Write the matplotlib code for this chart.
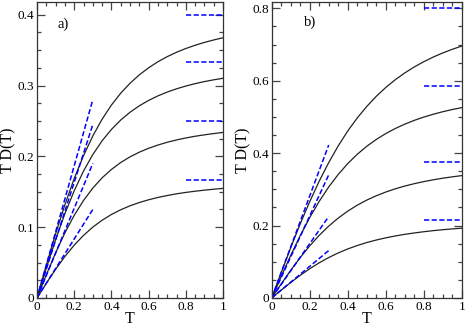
import matplotlib
matplotlib.use("Agg")
import matplotlib.pyplot as plt
from matplotlib.ticker import MultipleLocator, FuncFormatter

# temperature grid of the read-off points
T = [0, 0.05, 0.1, 0.15, 0.2, 0.25, 0.3, 0.35, 0.4, 0.45, 0.5,
     0.55, 0.6, 0.65, 0.7, 0.75, 0.8, 0.85, 0.9, 0.95, 1.0]

# panel a) curves, top to bottom
a1 = [0, 0.0462, 0.0906, 0.1317, 0.1687, 0.2010, 0.2288, 0.2525, 0.2724, 0.2892, 0.3032,
      0.3151, 0.3251, 0.3336, 0.3408, 0.3470, 0.3523, 0.3569, 0.3609, 0.3644, 0.3675]
a2 = [0, 0.0422, 0.0824, 0.1191, 0.1514, 0.1792, 0.2025, 0.2220, 0.2380, 0.2513, 0.2623,
      0.2714, 0.2790, 0.2854, 0.2908, 0.2954, 0.2993, 0.3027, 0.3056, 0.3081, 0.3103]
a3 = [0, 0.0327, 0.0638, 0.0920, 0.1167, 0.1377, 0.1552, 0.1697, 0.1815, 0.1913, 0.1993,
      0.2059, 0.2114, 0.2160, 0.2199, 0.2232, 0.2260, 0.2284, 0.2304, 0.2322, 0.2338]
a4 = [0, 0.0207, 0.0405, 0.0586, 0.0746, 0.0884, 0.1001, 0.1098, 0.1179, 0.1246, 0.1302,
      0.1348, 0.1387, 0.1420, 0.1447, 0.1471, 0.1491, 0.1508, 0.1523, 0.1536, 0.1548]

# panel b) curves, top to bottom
b1 = [0, 0.0702, 0.1389, 0.2045, 0.2660, 0.3226, 0.3739, 0.4200, 0.4610, 0.4971, 0.5289,
      0.5568, 0.5813, 0.6027, 0.6215, 0.6380, 0.6525, 0.6654, 0.6767, 0.6868, 0.6958]
b2 = [0, 0.0597, 0.1176, 0.1720, 0.2220, 0.2669, 0.3066, 0.3412, 0.3711, 0.3968, 0.4189,
      0.4378, 0.4540, 0.4680, 0.4800, 0.4905, 0.4996, 0.5075, 0.5144, 0.5205, 0.5258]
b3 = [0, 0.0388, 0.0764, 0.1117, 0.1440, 0.1730, 0.1985, 0.2207, 0.2398, 0.2563, 0.2703,
      0.2823, 0.2926, 0.3015, 0.3091, 0.3157, 0.3214, 0.3264, 0.3308, 0.3346, 0.3380]
b4 = [0, 0.0217, 0.0427, 0.0626, 0.0808, 0.0972, 0.1117, 0.1244, 0.1354, 0.1449, 0.1531,
      0.1601, 0.1661, 0.1713, 0.1758, 0.1796, 0.1830, 0.1860, 0.1886, 0.1908, 0.1928]

# low-T asymptotes: straight from the origin to T = 0.3
low_T = [0, 0.3]
a_low_end = [0.28, 0.245, 0.19, 0.125]
b_low_end = [0.4225, 0.34, 0.225, 0.131]

# high-T limits drawn between T = 0.8 and 1
high_T = [0.8, 1.0]
a_high = [0.4, 1 / 3, 0.25, 1 / 6]
b_high = [0.8, 0.585, 0.375, 0.215]

plt.rcParams['font.family'] = ['Liberation Serif', 'DejaVu Serif']


def fmt(v, pos):
    if abs(v) < 1e-9:
        return '0'
    return '%g' % round(v, 3)


def setup_axis(ax, ymax, ymajor, yminor):
    ax.set_xlim(0, 1)
    ax.set_ylim(0, ymax)
    ax.xaxis.set_major_locator(MultipleLocator(0.2))
    ax.xaxis.set_minor_locator(MultipleLocator(0.05))
    ax.yaxis.set_major_locator(MultipleLocator(ymajor))
    ax.yaxis.set_minor_locator(MultipleLocator(yminor))
    ax.xaxis.set_major_formatter(FuncFormatter(fmt))
    ax.yaxis.set_major_formatter(FuncFormatter(fmt))
    ax.tick_params(which='both', direction='in', top=True, right=True,
                   color='#444444', width=0.9, labelsize=9.5, pad=2)
    ax.tick_params(which='major', length=6)
    ax.tick_params(which='minor', length=3.2)
    for sp in ax.spines.values():
        sp.set_linewidth(0.9)
        sp.set_color('#333333')
    ax.set_xlabel('T', fontsize=11.5, labelpad=-1)
    ax.set_ylabel('T D(T)', fontsize=11.5, labelpad=1)


def draw_panel(ax, curves, low_ends, highs):
    for c in curves:
        ax.plot(T, c, color='#222222', lw=0.9)
    for e in low_ends:
        ax.plot(low_T, [0, e], color='#0000ff', lw=1.1, dashes=(3.4, 1.6))
    for h in highs:
        ax.plot(high_T, [h, h], color='#0000ff', lw=1.1, dashes=(3.4, 1.6))


fig = plt.figure(figsize=(4.66, 3.26), dpi=100)
ax1 = fig.add_axes([37 / 466, 28 / 326, 186 / 466, 296 / 326])
ax2 = fig.add_axes([271.7 / 466, 28 / 326, 190 / 466, 296 / 326])

draw_panel(ax1, [a1, a2, a3, a4], a_low_end, a_high)
setup_axis(ax1, 0.418, 0.1, 0.025)
ax1.text(0.108, 0.386, 'a)', fontsize=10.5, va='center', ha='left')

draw_panel(ax2, [b1, b2, b3, b4], b_low_end, b_high)
setup_axis(ax2, 0.8175, 0.2, 0.05)
ax2.text(0.168, 0.762, 'b)', fontsize=10.5, va='center', ha='left')

fig.savefig('out.png', dpi=100)
